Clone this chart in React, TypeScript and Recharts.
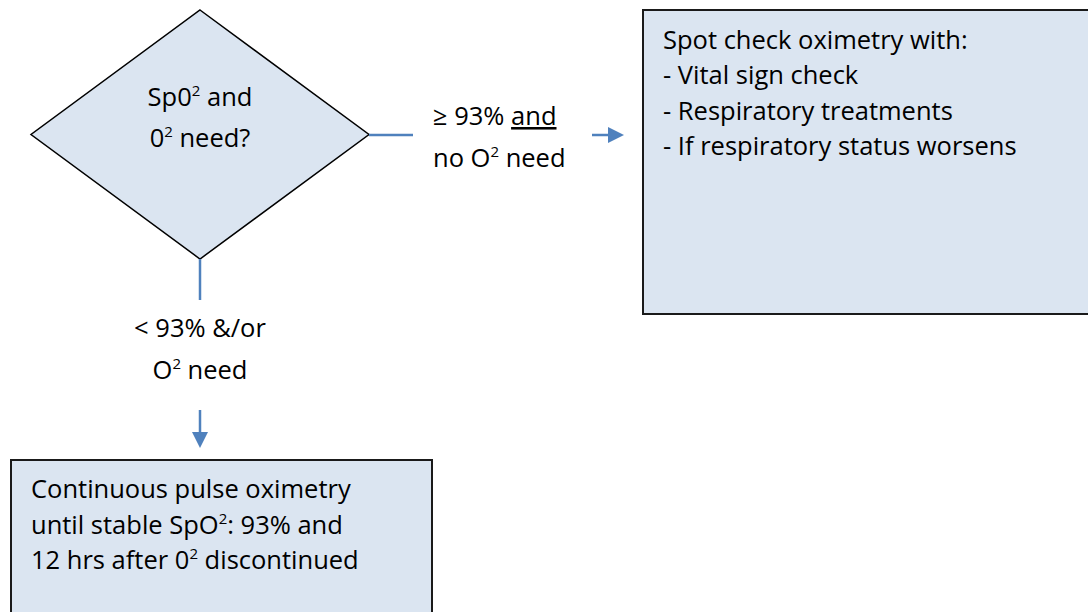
import React from "react";
import { ComposedChart, XAxis, YAxis, ReferenceArea, ReferenceLine, ReferenceDot } from "recharts";

// ---- content (text of each flowchart node / edge label) ----
// "^2" marks a superscript, "_word_" marks an underlined word
const decisionText = ["Sp0^2 and", "0^2 need?"];
const yesLabel = ["\u2265 93% _and_", "no O^2 need"];
const noLabel = ["< 93% &/or", "O^2 need"];
const spotCheckText = [
  "Spot check oximetry with:",
  "- Vital sign check",
  "- Respiratory treatments",
  "- If respiratory status worsens",
];
const continuousText = [
  "Continuous pulse oximetry",
  "until stable SpO^2: 93% and",
  "12 hrs after 0^2 discontinued",
];
// drawing frame (data domain of the hidden axes)
const frameX = [0, 1088];
const frameY = [0, 612];
const frameData = [
  { x: frameX[0], y: frameY[0] },
  { x: frameX[1], y: frameY[1] },
];

const W = 1088;
const H = 612;
const FONT = "'Open Sans', sans-serif";
const FS = 25.5;
const SUP = 15;
const SUP_DY = 10;
const BLUE = "#4f81bd";
const FILL = "#dbe5f1";
const BORDER = "#1a1a1a";

type Seg = { t: string; kind: "n" | "sup" | "u" };
function parse(line: string): Seg[] {
  const parts = line.split(/(\^\d|_[^_]+_)/).filter((p) => p.length > 0);
  return parts.map((p) => {
    if (p.startsWith("^")) return { t: p.slice(1), kind: "sup" };
    if (p.startsWith("_") && p.endsWith("_") && p.length > 2) return { t: p.slice(1, -1), kind: "u" };
    return { t: p, kind: "n" };
  });
}

function RichText({ x, y, lines, anchor, lh }: { x: number; y: number; lines: string[]; anchor: "start" | "middle"; lh: number }) {
  return (
    <text x={x} y={y} fontFamily={FONT} fontSize={FS} fill="#000" textAnchor={anchor}>
      {lines.map((ln, i) => {
        const segs = parse(ln);
        let raised = false;
        return (
          <tspan key={i} x={x} y={y + i * lh}>
            {segs.map((s, j) => {
              if (s.kind === "sup") {
                raised = true;
                return (
                  <tspan key={j} fontSize={SUP} dy={-SUP_DY}>
                    {s.t}
                  </tspan>
                );
              }
              const dy = raised ? SUP_DY : undefined;
              raised = false;
              return (
                <tspan key={j} dy={dy} style={s.kind === "u" ? { textDecoration: "underline" } : undefined}>
                  {s.t}
                </tspan>
              );
            })}
          </tspan>
        );
      })}
    </text>
  );
}

const diamondShape = (lines: string[]) => (props: any) => {
  const { x, y, width, height } = props;
  const cx = x + width / 2;
  const cy = y + height / 2;
  const pts = `${cx},${y} ${x + width},${cy} ${cx},${y + height} ${x},${cy}`;
  return (
    <g>
      <polygon points={pts} fill={FILL} stroke="#000" strokeWidth={1.5} />
      <RichText x={cx} y={y + 96} lines={lines} anchor="middle" lh={41} />
    </g>
  );
};

const boxShape = (lines: string[], padX: number, firstBase: number, lh: number) => (props: any) => {
  const { x, y, width, height } = props;
  return (
    <g>
      <rect x={x} y={y} width={width} height={height} fill={FILL} stroke={BORDER} strokeWidth={2} />
      <RichText x={x + padX} y={y + firstBase} lines={lines} anchor="start" lh={lh} />
    </g>
  );
};

const textShape = (lines: string[], anchor: "start" | "middle", lh: number) => (props: any) => {
  const { cx, cy } = props;
  return <RichText x={cx} y={cy} lines={lines} anchor={anchor} lh={lh} />;
};

const arrowShape = (props: any) => {
  const { x1, y1, x2, y2 } = props;
  const dx = x2 - x1;
  const dy = y2 - y1;
  const len = Math.sqrt(dx * dx + dy * dy) || 1;
  const ux = dx / len;
  const uy = dy / len;
  const head = 16;
  const half = 8;
  const bx = x2 - ux * head;
  const by = y2 - uy * head;
  const pts = `${x2},${y2} ${bx - uy * half},${by + ux * half} ${bx + uy * half},${by - ux * half}`;
  return (
    <g>
      <line x1={x1} y1={y1} x2={bx} y2={by} stroke={BLUE} strokeWidth={2.5} />
      <polygon points={pts} fill={BLUE} />
    </g>
  );
};

export default function App() {
  return (
    <div style={{ position: "absolute", left: 0, top: 0, width: W, height: H, background: "#fff" }}>
      <ComposedChart width={W} height={H} data={frameData} margin={{ top: 0, right: 0, bottom: 0, left: 0 }}>
        <XAxis type="number" dataKey="x" domain={frameX} hide allowDataOverflow />
        <YAxis type="number" dataKey="y" domain={frameY} reversed hide allowDataOverflow />

        {/* connectors */}
        <ReferenceLine segment={[{ x: 369, y: 135 }, { x: 413, y: 135 }]} stroke={BLUE} strokeWidth={2.5} ifOverflow="visible" />
        <ReferenceLine segment={[{ x: 200, y: 259 }, { x: 200, y: 300 }]} stroke={BLUE} strokeWidth={2.5} ifOverflow="visible" />
        <ReferenceLine segment={[{ x: 592, y: 135 }, { x: 624, y: 135 }]} shape={arrowShape} ifOverflow="visible" />
        <ReferenceLine segment={[{ x: 200, y: 410 }, { x: 200, y: 448 }]} shape={arrowShape} ifOverflow="visible" />

        {/* decision diamond */}
        <ReferenceArea x1={31} x2={369} y1={10} y2={259} shape={diamondShape(decisionText)} ifOverflow="visible" />

        {/* process boxes */}
        <ReferenceArea x1={643} x2={1100} y1={10} y2={314} shape={boxShape(spotCheckText, 20, 39, 35.4)} ifOverflow="visible" />
        <ReferenceArea x1={11} x2={432} y1={460} y2={630} shape={boxShape(continuousText, 20, 38, 35.5)} ifOverflow="visible" />

        {/* edge labels */}
        <ReferenceDot x={433} y={125} r={0} shape={textShape(yesLabel, "start", 42)} ifOverflow="visible" />
        <ReferenceDot x={200} y={337} r={0} shape={textShape(noLabel, "middle", 42)} ifOverflow="visible" />
      </ComposedChart>
    </div>
  );
}
